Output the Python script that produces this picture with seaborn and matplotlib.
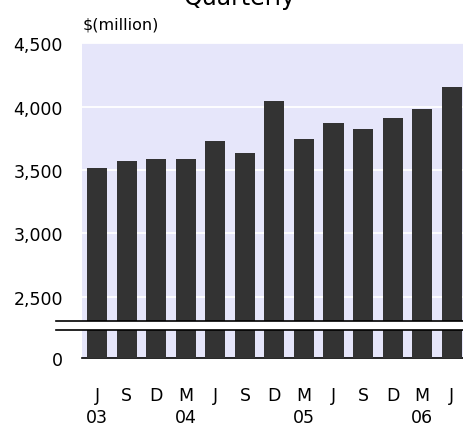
import matplotlib
matplotlib.use("Agg")
import matplotlib.pyplot as plt
import seaborn as sns
import pandas as pd

# Quarterly figures, $ million
quarters = ["Jun 03", "Sep 03", "Dec 03", "Mar 04", "Jun 04", "Sep 04", "Dec 04",
            "Mar 05", "Jun 05", "Sep 05", "Dec 05", "Mar 06", "Jun 06"]
values = [3520, 3570, 3585, 3585, 3730, 3635, 4045, 3745, 3870, 3825, 3915, 3980, 4155]
month_labels = ["J", "S", "D", "M", "J", "S", "D", "M", "J", "S", "D", "M", "J"]
year_labels = ["03", "", "", "04", "", "", "", "05", "", "", "", "06", ""]
upper_ticks = [2500, 3000, 3500, 4000, 4500]

df = pd.DataFrame({"quarter": quarters, "value": values})

plt.rcParams["font.family"] = ["DejaVu Sans"]
BG = "#e6e6fa"
BAR = "#333333"

fig = plt.figure(figsize=(4.64, 4.27), dpi=100)
W, H = 464, 427
left = 82.5 / W
width = (W - 82.5) / W
ax_hi = fig.add_axes([left, (H - 321.7) / H, width, (321.7 - 44.4) / H])
ax_lo = fig.add_axes([left, (H - 359.3) / H, width, (359.3 - 330.7) / H])

for ax in (ax_hi, ax_lo):
    sns.barplot(data=df, x="quarter", y="value", order=quarters, color=BAR,
                saturation=1, width=0.68, ax=ax, zorder=3, linewidth=0)
    ax.set_facecolor(BG)
    ax.set_xlim(-0.5, 12.42)
    ax.set_xlabel("")
    ax.set_ylabel("")
    for s in ax.spines.values():
        s.set_visible(False)
    ax.tick_params(length=0, labelsize=12.5, colors="black")

# upper panel: broken value axis
ax_hi.set_ylim(2311, 4500)
ax_hi.set_yticks(upper_ticks)
ax_hi.set_yticklabels([f"{v:,}" for v in upper_ticks])
ax_hi.tick_params(axis="y", pad=14)
ax_hi.set_xticks([])
ax_hi.grid(axis="y", color="white", linewidth=1.3, zorder=1)
ax_hi.set_axisbelow(True)
ax_hi.axhline(2311, xmin=-0.0695, xmax=1, color="black", linewidth=1.2,
              clip_on=False, zorder=5)

# lower panel: zero baseline
ax_lo.set_ylim(0, 300)
ax_lo.set_yticks([0])
ax_lo.set_yticklabels(["0"])
ax_lo.tick_params(axis="y", pad=14)
ax_lo.grid(False)
ax_lo.axhline(300, xmin=-0.0695, xmax=1, color="black", linewidth=1.2,
              clip_on=False, zorder=5)
ax_lo.spines["bottom"].set_visible(True)
ax_lo.spines["bottom"].set_color("black")
ax_lo.spines["bottom"].set_linewidth(1.2)
ax_lo.set_xticks(range(len(quarters)))
ax_lo.set_xticklabels([f"{m}\n{y}" for m, y in zip(month_labels, year_labels)],
                      linespacing=1.25)
ax_lo.tick_params(axis="x", pad=20)

fig.text(240 / W, (H - 5) / H, "Quarterly", ha="center", va="baseline", fontsize=17)
fig.text(83 / W, (H - 25) / H, r"\$(million)", ha="left", va="center", fontsize=11.5)

fig.savefig("out.png", dpi=100)
